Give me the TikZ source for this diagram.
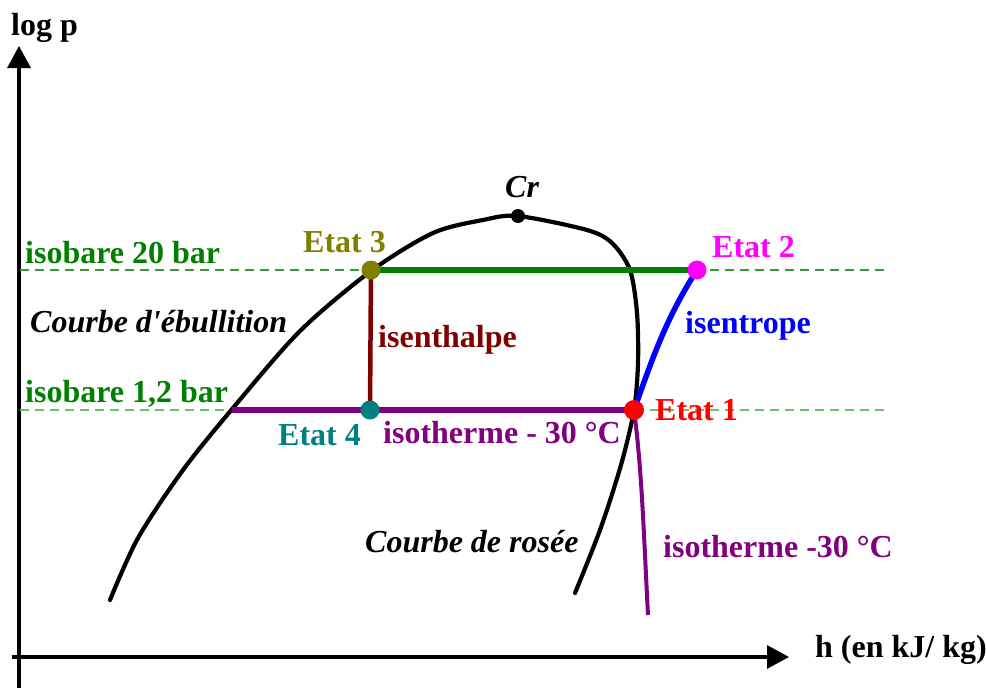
\documentclass[tikz,border=0pt]{standalone}
\usepackage{fontspec}
\setmainfont{Liberation Serif}[Ligatures=TeXOff]
\usetikzlibrary{arrows.meta}
\definecolor{cgreen}{RGB}{0,128,0}
\definecolor{colive}{RGB}{128,128,0}
\definecolor{cbrown}{RGB}{128,0,0}
\definecolor{cteal}{RGB}{0,128,128}
\definecolor{cpurple}{RGB}{128,0,128}
\definecolor{cred}{RGB}{255,0,0}
\definecolor{cmag}{RGB}{255,0,255}
\definecolor{cblue}{RGB}{0,0,255}
\definecolor{dashA}{RGB}{60,150,60}
\definecolor{dashB}{RGB}{110,190,110}
\begin{document}
\begin{tikzpicture}[x=1pt,y=-1pt,
  lbl/.style={font=\fontsize{32}{38}\selectfont\bfseries, inner sep=0pt, anchor=base west},
  ilbl/.style={font=\fontsize{32}{38}\selectfont\bfseries\itshape, inner sep=0pt, anchor=base west},
  dot/.style={circle, inner sep=0pt, minimum size=20pt},
  axis/.style={line width=3.2pt, -{Triangle[length=22pt,width=23pt]}},
  guide/.style={line width=1.5pt, dash pattern=on 9pt off 6pt},
  curve/.style={line width=4.2pt, line join=round, line cap=round}]
\useasboundingbox (0,0) rectangle (986,688);
% axes
\coordinate (yb) at (19,688);
\coordinate (yt) at (19,46);
\coordinate (xl) at (12,657);
\coordinate (xr) at (789,657);
\draw[axis] (yb) -- (yt);
\draw[axis] (xl) -- (xr);
\node[lbl] (lp) at (11,35) {log p};
\node[lbl] (hl) at (815,657) {h (en kJ/ kg)};
% guide dashed lines
\coordinate (g1l) at (20,270);
\coordinate (g1r) at (888,270);
\coordinate (g2l) at (20,410);
\coordinate (g2r) at (888,410);
\draw[guide, dashA] (g1l) -- (g1r);
\draw[guide, dashB] (g2l) -- (g2r);
% dome
\draw[curve] plot[smooth, tension=0.5] coordinates {
 (110,600) (138,538) (183,470) (233,408) (300,331) (371,271)
 (433,233) (483,220) (518,216) (587,230) (612,243)
 (630,270) (637,313) (638,363) (634,410) (621,465) (600,530) (575,593)};
% states
\node[dot] (e3) at (371,270) {};
\node[dot] (e2) at (697,270) {};
\node[dot] (e4) at (370,410) {};
\node[dot] (e1) at (634,410) {};
\node[circle, fill=black, inner sep=0pt, minimum size=14pt] (cr) at (518,216) {};
\coordinate (isoL) at (232,410);
\coordinate (isoB) at (648,615);
% process lines
\draw[cgreen, line width=5.5pt] (e3.center) -- (e2.center);
\draw[cbrown, line width=4.5pt] (e3.center) -- (e4.center);
\draw[cpurple, line width=5.5pt] (isoL) -- (e1.center);
\draw[cblue, line width=5.5pt, line cap=round] (e1.center) .. controls (652,360) and (665,320) .. (e2.center);
\draw[cpurple, line width=4pt] (e1.center) .. controls (642,470) and (644,540) .. (isoB);
% dots on top
\fill[colive] (e3) circle (9.5pt);
\fill[cmag] (e2) circle (9.5pt);
\fill[cteal] (e4) circle (9.5pt);
\fill[cred] (e1) circle (10pt);
% labels
\node[lbl, cgreen] (t20) at (25,263) {isobare 20 bar};
\node[lbl, cgreen] (t12) at (25,402) {isobare 1,2 bar};
\node[lbl, colive] (te3) at (303,252) {Etat 3};
\node[lbl, cmag] (te2) at (712,257) {Etat 2};
\node[lbl, cred] (te1) at (655,420) {Etat 1};
\node[lbl, cteal] (te4) at (278,445) {Etat 4};
\node[lbl, cblue] (tis) at (685,333) {isentrope};
\node[lbl, cbrown] (tih) at (378,347) {isenthalpe};
\node[lbl, cpurple] (tit1) at (383,443) {isotherme - 30 °C};
\node[lbl, cpurple] (tit2) at (663,557) {isotherme -30 °C};
\node[ilbl] (tcr) at (505,197) {Cr};
\node[ilbl] (teb) at (30,332) {Courbe d'ébullition};
\node[ilbl] (tro) at (365,552) {Courbe de rosée};
\end{tikzpicture}
\end{document}
